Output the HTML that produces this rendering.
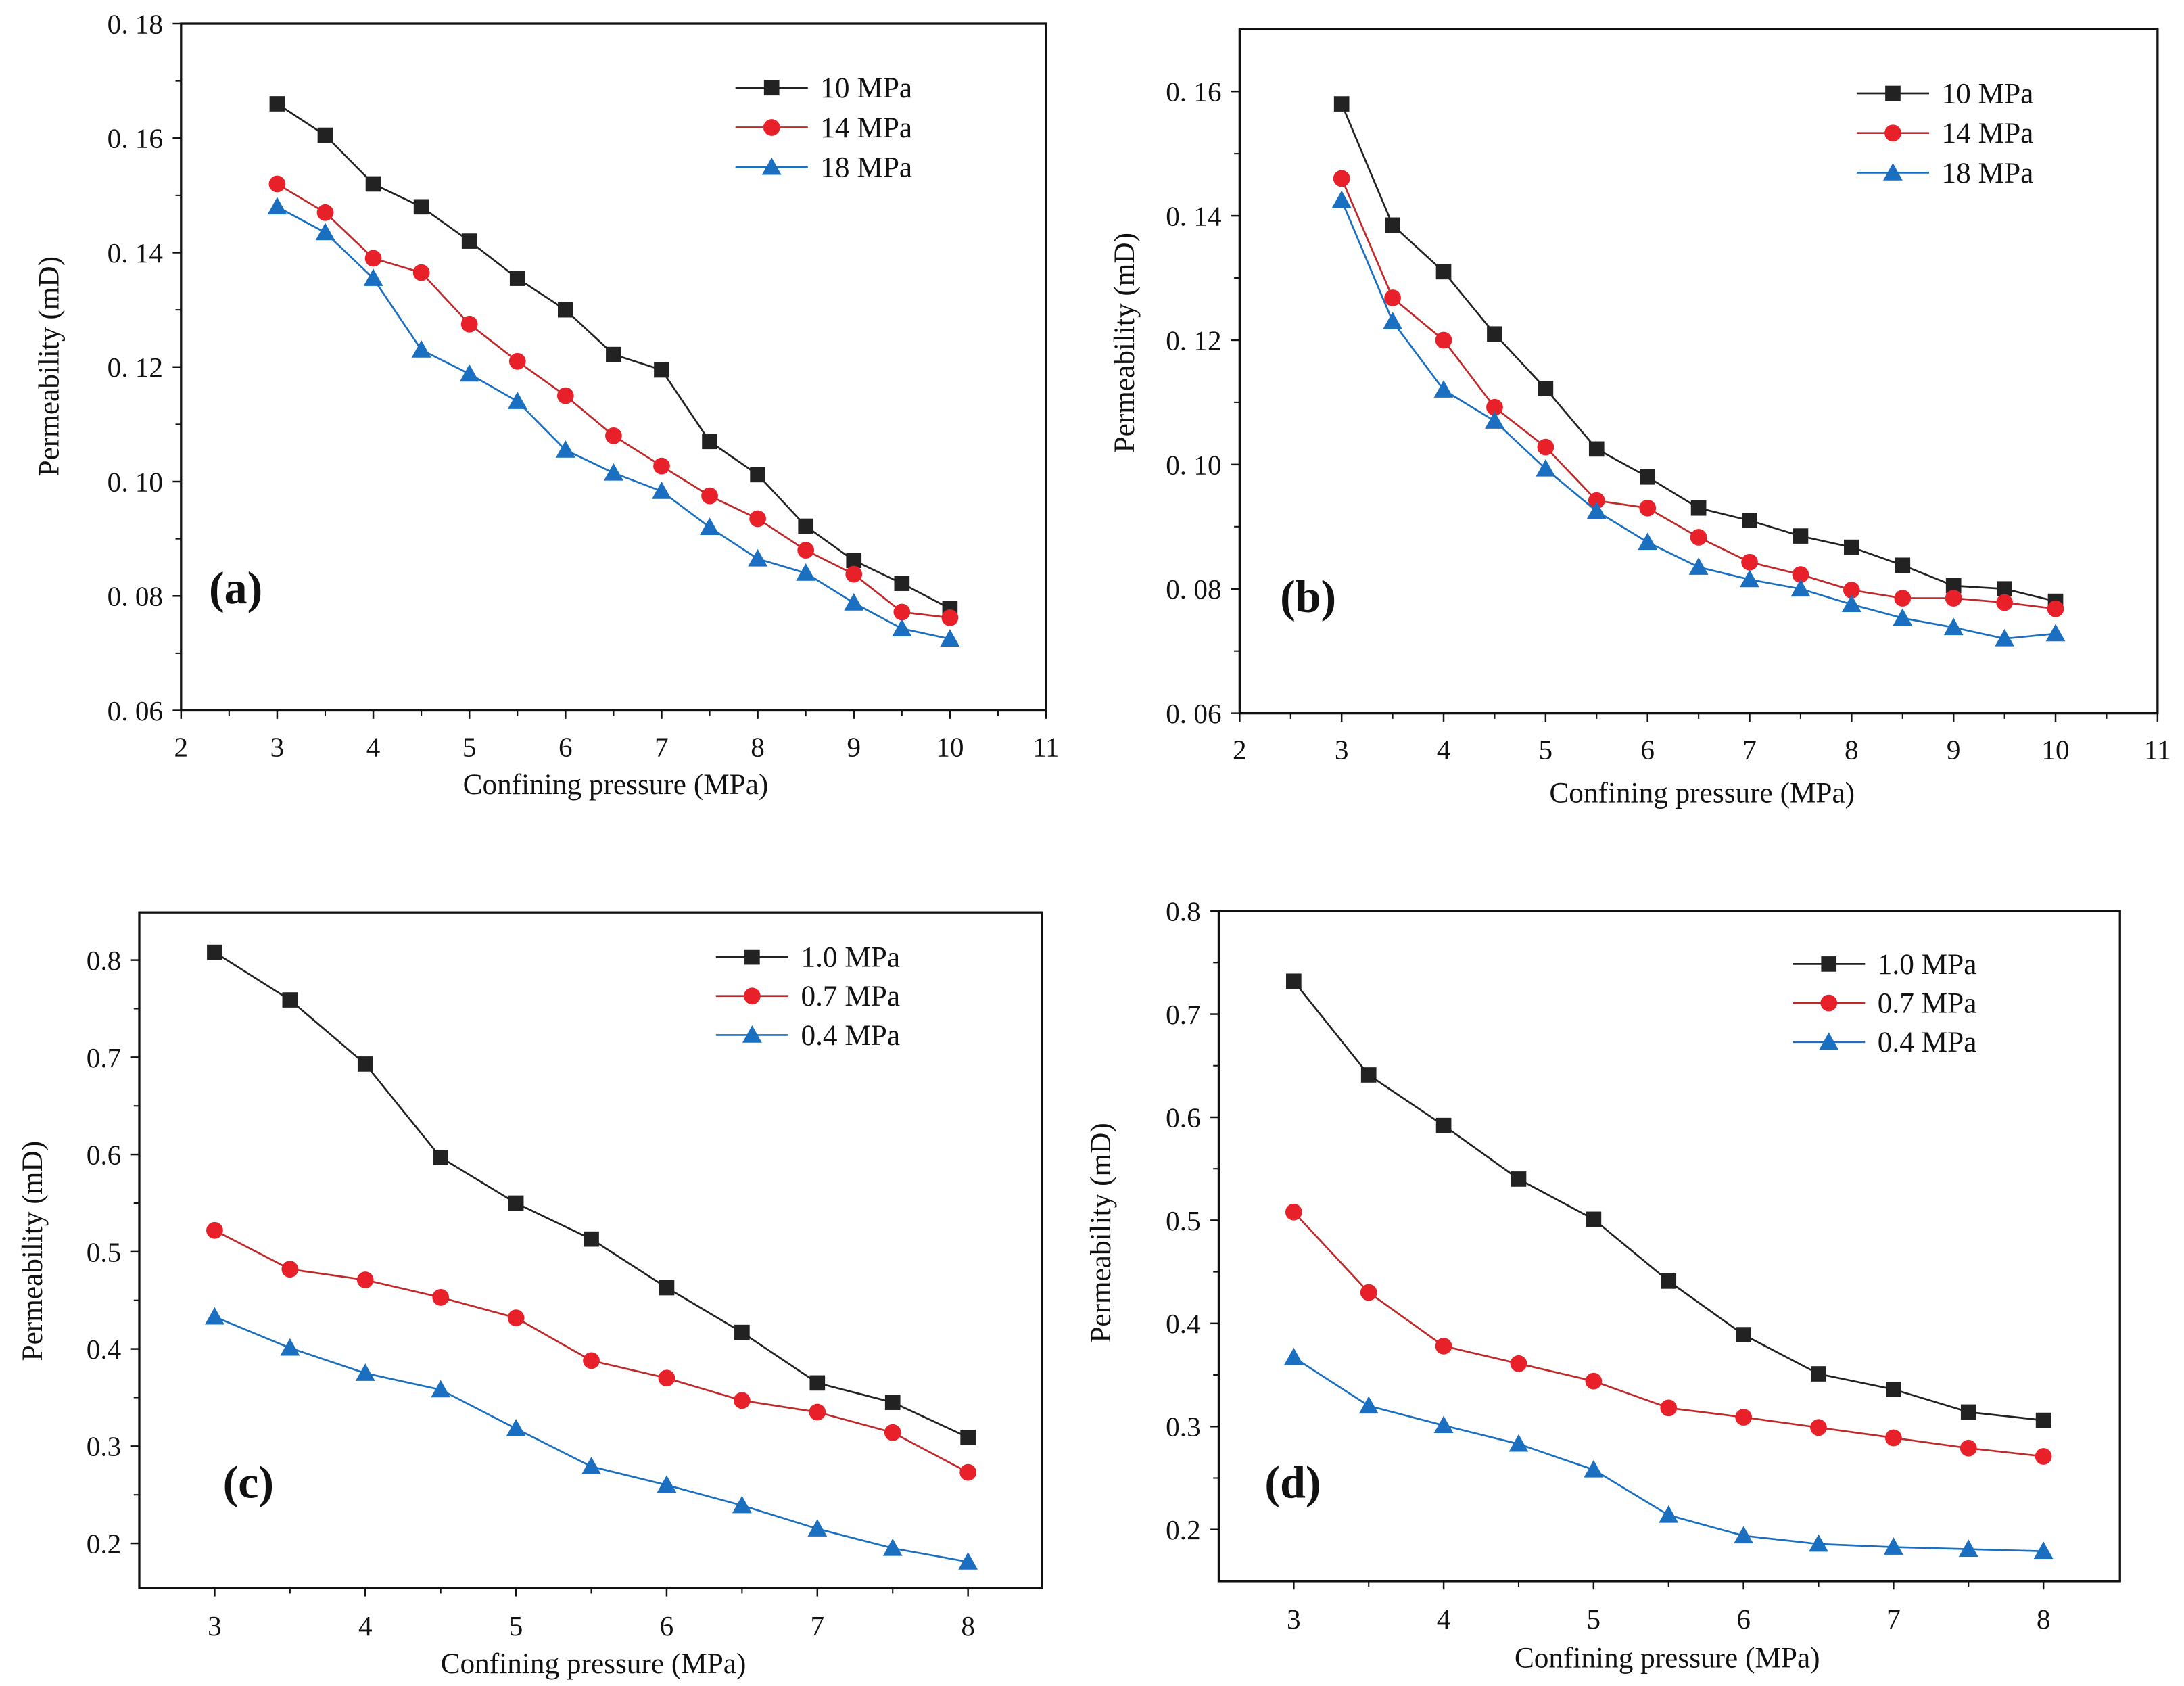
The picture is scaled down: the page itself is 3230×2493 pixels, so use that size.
<!DOCTYPE html>
<html><head><meta charset="utf-8"><style>
html,body{margin:0;padding:0;background:#fff}
svg{display:block}
text{font-family:"Liberation Serif",serif;fill:#111}
</style></head><body>
<svg id="fig" width="3230" height="2493" viewBox="0 0 1568 1210.3" preserveAspectRatio="none" xmlns="http://www.w3.org/2000/svg"></svg>
<script>
const xA=[3,3.5,4,4.5,5,5.5,6,6.5,7,7.5,8,8.5,9,9.5,10];
const aS10=[0.166,0.1605,0.152,0.148,0.142,0.1355,0.130,0.1222,0.1195,0.107,0.1012,0.0922,0.0862,0.0822,0.0778];
const aS14=[0.152,0.147,0.139,0.1365,0.1275,0.121,0.115,0.108,0.1027,0.0975,0.0935,0.088,0.0838,0.0772,0.0762];
const aS18=[0.148,0.1435,0.1355,0.123,0.1188,0.114,0.1055,0.1015,0.0983,0.092,0.0865,0.0840,0.0788,0.0743,0.0725];
const bS10=[0.158,0.1385,0.131,0.121,0.1122,0.1025,0.098,0.093,0.091,0.0885,0.0867,0.0838,0.0805,0.080,0.078];
const bS14=[0.146,0.1268,0.120,0.1092,0.1028,0.0942,0.093,0.0883,0.0843,0.0823,0.0798,0.0785,0.0785,0.0778,0.0768];
const bS18=[0.1425,0.123,0.112,0.107,0.0993,0.0925,0.0875,0.0835,0.0815,0.080,0.0775,0.0753,0.0738,0.072,0.0728];
const xC=[3,3.5,4,4.5,5,5.5,6,6.5,7,7.5,8];
const cS10=[0.808,0.759,0.693,0.597,0.550,0.513,0.463,0.417,0.365,0.345,0.309];
const cS07=[0.522,0.482,0.471,0.453,0.432,0.388,0.370,0.347,0.335,0.314,0.273];
const cS04=[0.433,0.401,0.375,0.358,0.318,0.279,0.260,0.239,0.215,0.195,0.181];
const dS10=[0.732,0.641,0.592,0.540,0.501,0.441,0.389,0.351,0.336,0.314,0.306];
const dS07=[0.508,0.430,0.378,0.361,0.344,0.318,0.309,0.299,0.289,0.279,0.271];
const dS04=[0.367,0.320,0.301,0.283,0.258,0.214,0.194,0.186,0.183,0.181,0.179];
const abLegend=["10 MPa","14 MPa","18 MPa"];
const cdLegend=["1.0 MPa","0.7 MPa","0.4 MPa"];
const abYTicks=[0.06,0.08,0.10,0.12,0.14,0.16,0.18];
const abXTicks=[2,3,4,5,6,7,8,9,10,11];
const cdYTicks=[0.2,0.3,0.4,0.5,0.6,0.7,0.8];
const cdXTicks=[3,4,5,6,7,8];

const NS="http://www.w3.org/2000/svg";
const svg=document.getElementById('fig');
function mk(tag,attrs,parent){const e=document.createElementNS(NS,tag);for(const k in attrs)e.setAttribute(k,attrs[k]);(parent||svg).appendChild(e);return e;}
const colors=["#222","#e8202a","#1a6fc0"];
const lineCols=["#222","#c0282a","#1a6fc0"];

function panel(p){
  const g=mk('g',{});
  
  
  const X=v=>p.l+(v-p.x0)/(p.x1-p.x0)*(p.r-p.l);
  const Y=v=>p.b-(v-p.y0)/(p.y1-p.y0)*(p.b-p.t);
  const box=mk('rect',{x:p.l,y:p.t,width:p.r-p.l,height:p.b-p.t,fill:'none',stroke:'#111','stroke-width':1.6},g);
  
  p.yt.forEach((v,i)=>{
    const y=Y(v);
    mk('line',{x1:p.l-6,x2:p.l,y1:y,y2:y,stroke:'#111','stroke-width':1.2},g);
    if(i<p.yt.length-1){const ym=Y(v+(p.yt[1]-p.yt[0])/2);mk('line',{x1:p.l-4,x2:p.l,y1:ym,y2:ym,stroke:'#111','stroke-width':1},g);}
    const t=mk('text',{x:p.l-13,y:y+7,'text-anchor':'end','font-size':20},g);
    t.textContent=p.fmtY(v);
    
  });
  p.xt.forEach((v,i)=>{
    const x=X(v);
    mk('line',{x1:x,x2:x,y1:p.b,y2:p.b+6,stroke:'#111','stroke-width':1.2},g);
    if(i<p.xt.length-1){const xm=X(v+0.5);mk('line',{x1:xm,x2:xm,y1:p.b,y2:p.b+4,stroke:'#111','stroke-width':1},g);}
    const t=mk('text',{x:x,y:p.b+p.xlOff,'text-anchor':'middle','font-size':20},g);
    t.textContent=String(v);
    
  });
  const xt=mk('text',{x:p.xtx,y:p.xty,'text-anchor':'middle','font-size':21},g);
  xt.textContent='Confining pressure (MPa)';
  
  const yt=mk('text',{x:0,y:0,'text-anchor':'middle','font-size':21,transform:`translate(${p.ytx},${p.yty}) rotate(-90)`},g);
  yt.textContent='Permeability (mD)';
  
  const lb=mk('text',{x:p.lbx,y:p.lby,'font-size':33,'font-weight':'bold'},g);
  lb.textContent='('+p.id+')';
  
  p.series.forEach((s,si)=>{
    const pts=s.map((v,i)=>[X(p.xs[i]),Y(v)]);
    const pl=mk('polyline',{points:pts.map(q=>q.join(',')).join(' '),fill:'none',stroke:lineCols[si],'stroke-width':1.3},g);
    
    pts.forEach(q=>{const m=marker(si,q[0],q[1],g);});
  });
  p.leg.forEach((name,si)=>{
    const y=p.legY+si*p.legDy;
    const lg=mk('g',{},g);
    
    mk('line',{x1:p.legX,x2:p.legX+52,y1:y,y2:y,stroke:lineCols[si],'stroke-width':1.3},lg);
    marker(si,p.legX+26,y,lg);
    const t=mk('text',{x:p.legX+61,y:y+7,'font-size':21},lg);t.textContent=name;
  });
}
function marker(si,x,y,g){
  if(si===0)return mk('rect',{x:x-5.5,y:y-5.5,width:11,height:11,fill:colors[0]},g);
  if(si===1)return mk('circle',{cx:x,cy:y,r:6,fill:colors[1]},g);
  return mk('polygon',{points:`${x},${y-7} ${x-7},${y+5.5} ${x+7},${y+5.5}`,fill:colors[2]},g);
}
const fAB=v=>v.toFixed(2).replace('.','. ');
const fCD=v=>v.toFixed(1);
panel({id:'a',l:130,r:751,t:17,b:510,x0:2,x1:11,y0:0.06,y1:0.18,xs:xA,series:[aS10,aS14,aS18],yt:abYTicks,xt:abXTicks,fmtY:fAB,xlOff:33,xtx:442,xty:570,ytx:42,yty:263,lbx:150,lby:433,leg:abLegend,legX:528,legY:63,legDy:28.5});
panel({id:'b',l:890,r:1549,t:21,b:512,x0:2,x1:11,y0:0.06,y1:0.17,xs:xA,series:[bS10,bS14,bS18],yt:abYTicks.slice(0,6),xt:abXTicks,fmtY:fAB,xlOff:33,xtx:1222,xty:576,ytx:814,yty:246,lbx:919,lby:439,leg:abLegend,legX:1333,legY:67,legDy:28.5});
panel({id:'c',l:100,r:748,t:655,b:1140,x0:2.5,x1:8.49,y0:0.154,y1:0.849,xs:xC,series:[cS10,cS07,cS04],yt:cdYTicks,xt:cdXTicks,fmtY:fCD,xlOff:34,xtx:426,xty:1201,ytx:30,yty:898,lbx:160,lby:1075,leg:cdLegend,legX:514,legY:687,legDy:28});
panel({id:'d',l:875,r:1522,t:654,b:1135,x0:2.5,x1:8.51,y0:0.15,y1:0.8,xs:xC,series:[dS10,dS07,dS04],yt:cdYTicks,xt:cdXTicks,fmtY:fCD,xlOff:34,xtx:1197,xty:1197,ytx:797,yty:885,lbx:908,lby:1075,leg:cdLegend,legX:1287,legY:692,legDy:28});
</script>
</body></html>
